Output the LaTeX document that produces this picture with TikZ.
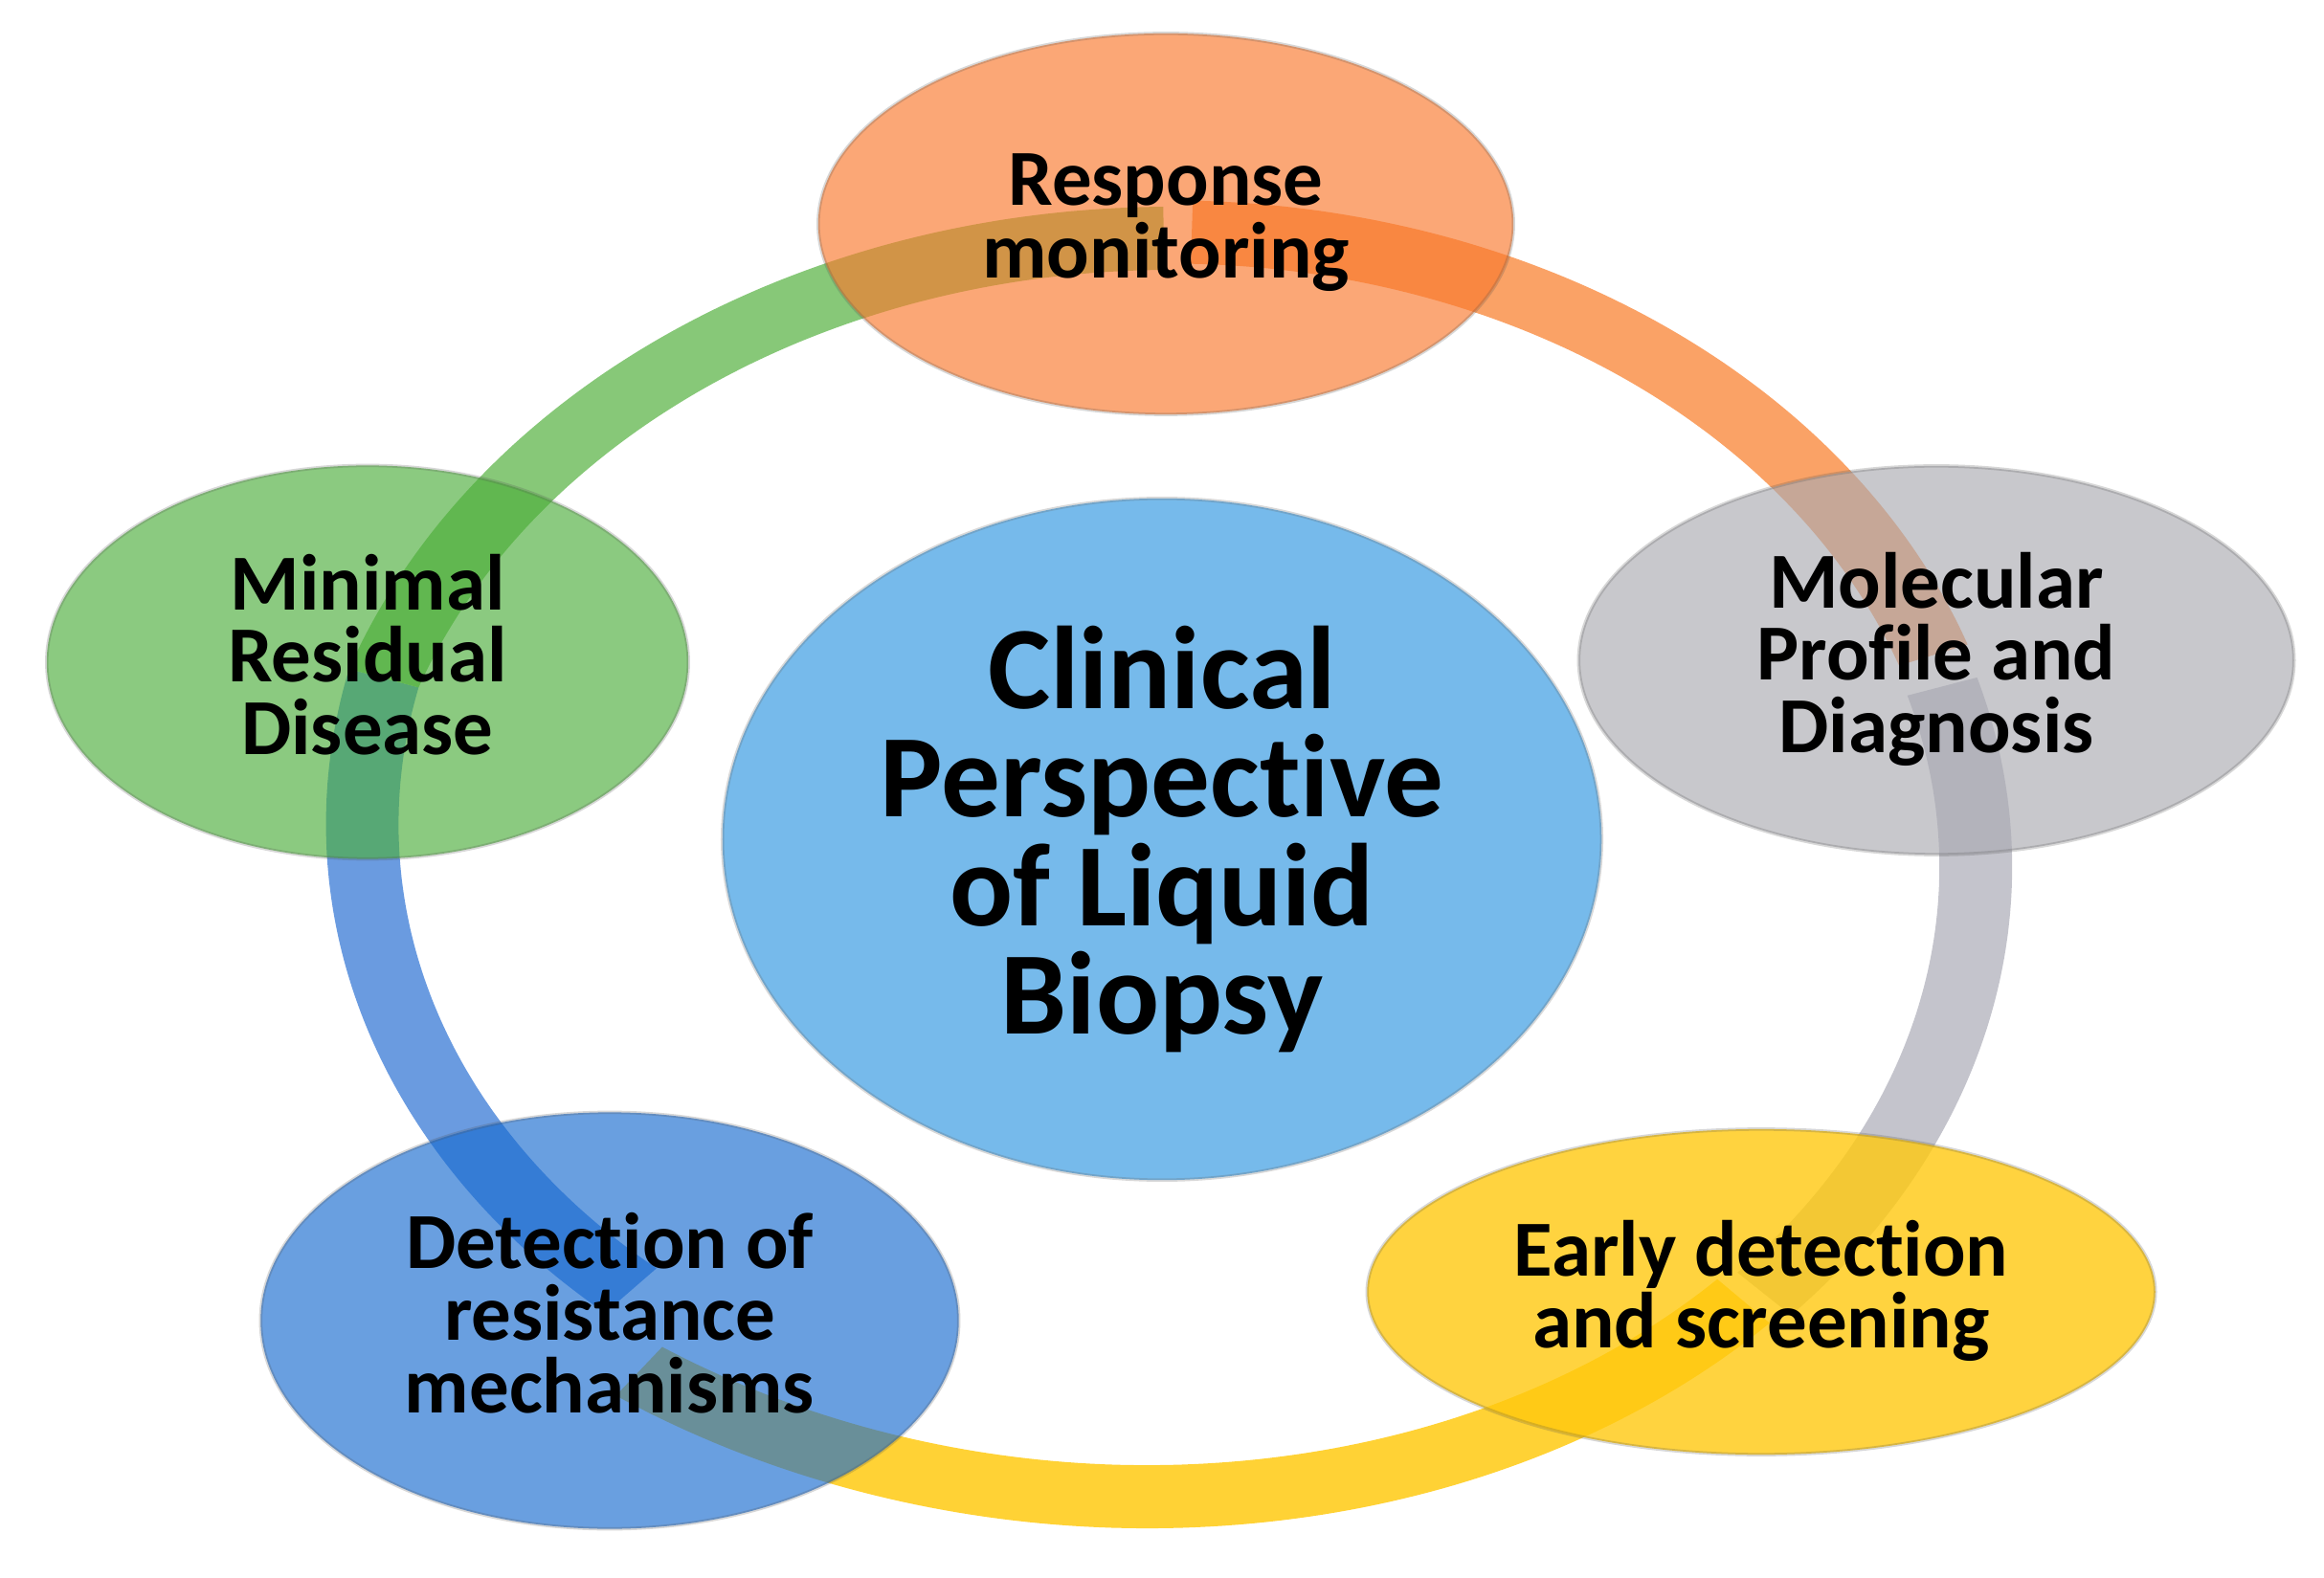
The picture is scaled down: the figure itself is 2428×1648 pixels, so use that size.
\documentclass[tikz,border=0pt]{standalone}
\usepackage{fontspec}
\setmainfont{Carlito}[Ligatures={NoCommon,NoRare,NoContextual}]
\usetikzlibrary{shapes.geometric}
% node base colours (used semi-transparent)
\definecolor{orN}{RGB}{249,121,46}
\definecolor{grN}{RGB}{171,171,178}
\definecolor{yeN}{RGB}{255,201,15}
\definecolor{blN}{RGB}{26,108,208}
\definecolor{gnN}{RGB}{78,175,60}
\definecolor{hubC}{RGB}{118,186,235}
% ring arc colours
\definecolor{orA}{RGB}{250,162,102}
\definecolor{grA}{RGB}{196,196,204}
\definecolor{yeA}{RGB}{255,210,53}
\definecolor{blA}{RGB}{106,155,224}
\definecolor{gnA}{RGB}{135,200,120}
% block arc on the ring: style, start angle, end angle, radial factor (expression of \angl)
\newcommand\RingArc[4]{%
  \fill[#1] plot[domain=#2:#3,samples=90,variable=\angl]
    ({1223+(837*(#4)+38)*cos(\angl)},{742+(657*(#4)+33)*sin(\angl)})
    -- plot[domain=#3:#2,samples=90,variable=\angl]
    ({1223+(837*(#4)-38)*cos(\angl)},{742+(657*(#4)-33)*sin(\angl)}) -- cycle;}
\tikzset{
  bub/.style={ellipse, inner sep=0pt, fill opacity=0.65, text opacity=1,
    draw=black!70, draw opacity=0.22, line width=1pt, text=black, align=center,
    text depth=4.7pt, font=\bfseries\fontsize{23.6}{21.5}\selectfont},
  hub/.style={ellipse, inner sep=0pt, fill=hubC, draw=black!60, draw opacity=0.25,
    line width=1pt, text=black, align=center,
    font=\bfseries\fontsize{35}{32.2}\selectfont,
    minimum width=9.18cm, minimum height=7.12cm}
}
\begin{document}
\begin{tikzpicture}[x=0.01cm,y=0.01cm]
\fill[white] (0,0) rectangle (2428,1648);
\useasboundingbox (0,0) rectangle (2428,1648);
\coordinate (ring) at (1223,742);
% ring arcs (under the nodes)
\RingArc{orA}{88.5}{19.5}{1.01}
\RingArc{grA}{16.6}{-42.5}{1.005}
\RingArc{yeA}{-44}{-129.6}{0.994+0.047*((-44-(\angl))/85.6)*((-44-(\angl))/85.6)*((-44-(\angl))/85.6)}
\RingArc{blA}{-135}{-197}{0.953+0.074*((-135-(\angl))/62)}
\RingArc{gnA}{-197}{-269.5}{1+0.027*(((\angl)+269.5)/72.5)*(((\angl)+269.5)/72.5)}
% nodes
\node[bub, fill=orN, minimum width=7.26cm, minimum height=3.98cm] (resp) at (1218,1414) {Response\\monitoring};
\node[bub, fill=grN, minimum width=7.47cm, minimum height=4.06cm] (molec) at (2023,958) {Molecular\\Profile and\\Diagnosis};
\node[bub, fill=yeN, fill opacity=0.8, minimum width=8.23cm, minimum height=3.40cm] (early) at (1840,298) {Early detection\\and screening};
\node[bub, fill=blN, minimum width=7.29cm, minimum height=4.35cm] (detect) at (637,268) {Detection of\\resistance\\mechanisms};
\node[bub, fill=gnN, minimum width=6.70cm, minimum height=4.11cm] (mrd) at (384,956) {Minimal\\Residual\\Disease};
\node[hub] (center) at (1214,771) {Clinical\\Perspective\\of Liquid\\Biopsy};
\end{tikzpicture}
\end{document}
